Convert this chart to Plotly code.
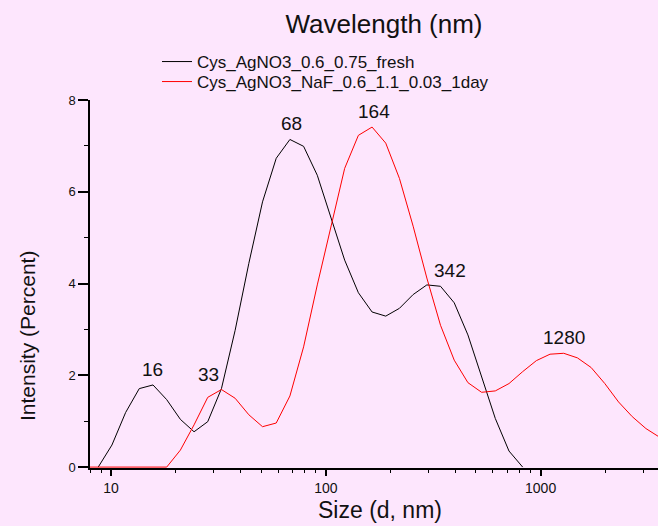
import numpy as np
import plotly.graph_objects as go

# ---------------- data ----------------
sizes_fresh = [8.721, 10.10, 11.70, 13.54, 15.69, 18.17, 21.04, 24.36, 28.21, 32.67,
               37.84, 43.82, 50.75, 58.77, 68.06, 78.82, 91.28, 105.7, 122.4, 141.8,
               164.2, 190.1, 220.2, 255.0, 295.3, 342.0, 396.1, 458.7, 531.2, 615.1,
               712.4, 825.0]
intensity_fresh = [0.0, 0.48, 1.19, 1.71, 1.79, 1.47, 1.04, 0.77, 0.99, 1.71,
                   2.98, 4.44, 5.78, 6.73, 7.14, 6.99, 6.36, 5.45, 4.51, 3.80,
                   3.38, 3.29, 3.46, 3.76, 3.97, 3.94, 3.58, 2.88, 1.97, 1.06,
                   0.35, 0.0]

sizes_1day = [7.456, 8.721, 10.10, 11.70, 13.54, 15.69, 18.17, 21.04, 24.36, 28.21,
              32.67, 37.84, 43.82, 50.75, 58.77, 68.06, 78.82, 91.28, 105.7, 122.4,
              141.8, 164.2, 190.1, 220.2, 255.0, 295.3, 342.0, 396.1, 458.7, 531.2,
              615.1, 712.4, 825.0, 955.4, 1106, 1281, 1484, 1718, 1990, 2305,
              2669, 3091, 3580, 4145]
intensity_1day = [0.0, 0.0, 0.0, 0.0, 0.0, 0.0, 0.0, 0.37, 0.92, 1.52,
                  1.69, 1.50, 1.14, 0.88, 0.96, 1.55, 2.62, 3.97, 5.26, 6.51,
                  7.23, 7.41, 7.06, 6.29, 5.25, 4.12, 3.09, 2.33, 1.84, 1.63,
                  1.66, 1.82, 2.08, 2.32, 2.46, 2.48, 2.38, 2.17, 1.82, 1.42,
                  1.10, 0.84, 0.65, 0.48]

series_names = ["Cys_AgNO3_0.6_0.75_fresh", "Cys_AgNO3_NaF_0.6_1.1_0.03_1day"]

peak_labels = ["16", "33", "68", "164", "342", "1280"]
peak_sizes = [15.69, 32.67, 68.06, 164.2, 342.0, 1281]
peak_values = [1.79, 1.69, 7.14, 7.41, 3.94, 2.48]

x_tick_vals = [10, 100, 1000]
x_tick_text = ["10", "100", "1000"]
y_tick_vals = [0, 2, 4, 6, 8]

# ---------------- style ----------------
BG = "#FDE6FD"
FONT = "Liberation Sans, Arial, sans-serif"
TXT = "#111111"
label_xshift = [-1, -13, 2, 2, 9, 0]

W, H = 658, 526
ML, MR, MT, MB = 90, 0, 100, 58
PW, PH = W - ML - MR, H - MT - MB


def px_to_paper(px, py):
    return (px - ML) / PW, (H - MB - py) / PH


fig = go.Figure()
fig.add_trace(go.Scatter(x=sizes_fresh, y=intensity_fresh, mode="lines",
                         name=series_names[0], line=dict(color="black", width=1),
                         legend="legend"))
fig.add_trace(go.Scatter(x=sizes_1day, y=intensity_1day, mode="lines",
                         name=series_names[1], line=dict(color="#FF0000", width=1),
                         legend="legend2"))

for lab, px_, py_, dx in zip(peak_labels, peak_sizes, peak_values, label_xshift):
    fig.add_annotation(x=np.log10(px_), y=py_, xref="x", yref="y", text=lab,
                       showarrow=False, yanchor="bottom", xanchor="center",
                       xshift=dx, yshift=3,
                       font=dict(family=FONT, size=19, color=TXT))

# axis titles as annotations (positioned like the reference)
xt = px_to_paper(380, 510)
fig.add_annotation(text="Size (d, nm)", xref="paper", yref="paper",
                   x=xt[0], y=xt[1], showarrow=False,
                   xanchor="center", yanchor="middle",
                   font=dict(family=FONT, size=23, color=TXT))
yt = px_to_paper(27, 336)
fig.add_annotation(text="Intensity (Percent)", xref="paper", yref="paper",
                   x=yt[0], y=yt[1], showarrow=False, textangle=-90,
                   xanchor="center", yanchor="middle",
                   font=dict(family=FONT, size=21, color=TXT))

legend_common = dict(bgcolor="rgba(0,0,0,0)", borderwidth=0,
                     font=dict(family=FONT, size=17, color=TXT),
                     xref="paper", yref="paper",
                     xanchor="left", yanchor="middle")
l1 = px_to_paper(157, 62)
l2 = px_to_paper(157, 82)

fig.update_layout(
    width=W, height=H,
    margin=dict(l=ML, r=MR, t=MT, b=MB, pad=0, autoexpand=False),
    paper_bgcolor=BG, plot_bgcolor=BG,
    title=dict(text="Wavelength (nm)", xref="container", yref="container",
               x=384 / W, y=1 - 24 / H, xanchor="center", yanchor="middle",
               font=dict(family=FONT, size=26, color=TXT)),
    legend=dict(x=l1[0], y=l1[1], **legend_common),
    legend2=dict(x=l2[0], y=l2[1], **legend_common),
    showlegend=True,
)

fig.update_xaxes(type="log", range=[0.9023, 3.5464],
                 showgrid=False, zeroline=False,
                 showline=True, linecolor="black", linewidth=1.5,
                 ticks="outside", ticklen=6, tickwidth=1.5, tickcolor="black",
                 tickvals=x_tick_vals, ticktext=x_tick_text,
                 tickfont=dict(family=FONT, size=14, color=TXT),
                 minor=dict(ticks="outside", ticklen=3, tickwidth=1.2,
                            tickcolor="black", dtick="D1", showgrid=False),
                 layer="below traces")
fig.update_yaxes(range=[-0.02, 8], showgrid=False, zeroline=False,
                 showline=True, linecolor="black", linewidth=1.5,
                 ticks="outside", ticklen=10, tickwidth=1.5, tickcolor="black",
                 tickvals=y_tick_vals,
                 tickfont=dict(family=FONT, size=13, color=TXT),
                 minor=dict(ticks="outside", ticklen=4, tickwidth=1.2,
                            tickcolor="black", dtick=1, showgrid=False),
                 layer="below traces")

fig.write_html("out.html",
               config={"displayModeBar": False},
               post_script="document.body.style.margin='0';"
                           "document.body.style.background='" + BG + "';")
